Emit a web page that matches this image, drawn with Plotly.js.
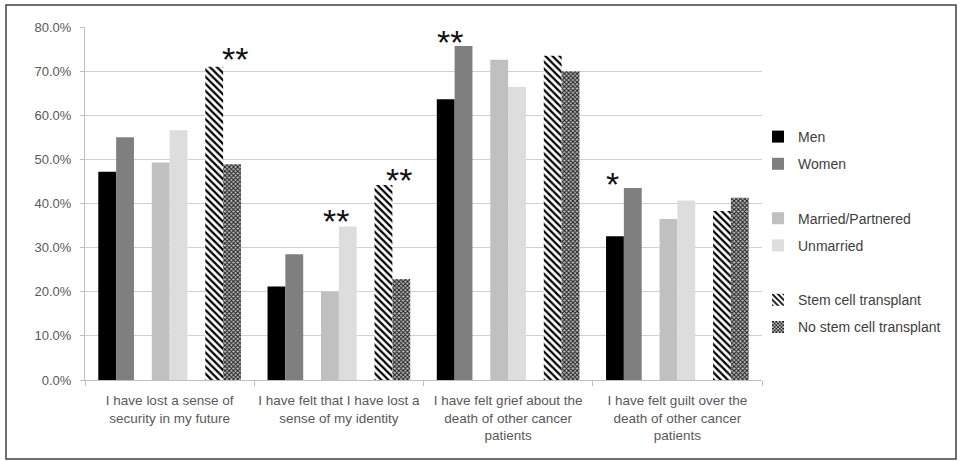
<!DOCTYPE html>
<html>
<head>
<meta charset="utf-8">
<script src="https://cdn.plot.ly/plotly-3.0.1.min.js"></script>
<style>
html, body { margin: 0; padding: 0; background: #fff; }
#chart { width: 961px; height: 461px; }
</style>
</head>
<body>
<div id="chart"></div>
<script>
// ---- data ----
const categories = [
  "I have lost a sense of<br>security in my future",
  "I have felt that I have lost a<br>sense of my identity",
  "I have felt grief about the<br>death of other cancer<br>patients",
  "I have felt guilt over the<br>death of other cancer<br>patients"
];
const men       = [0.472, 0.212, 0.636, 0.326];
const women     = [0.550, 0.285, 0.757, 0.435];
const married   = [0.493, 0.200, 0.726, 0.365];
const unmarried = [0.566, 0.348, 0.664, 0.407];
const sct       = [0.710, 0.442, 0.735, 0.383];
const noSct     = [0.489, 0.229, 0.700, 0.413];
const spacer    = [0, 0, 0, 0];

const yTickVals = [0, 0.1, 0.2, 0.3, 0.4, 0.5, 0.6, 0.7, 0.8];

// significance markers
const starText = ["**", "**", "**", "**", "*"];
const starCat  = [0.388, 0.981, 1.356, 1.656, 2.616];
const starY    = [0.737, 0.370, 0.463, 0.774, 0.453];

// ---- traces ----
function bar(name, y, marker, group) {
  return {
    type: 'bar', name: name, x: categories, y: y,
    marker: marker, legendgroup: group, hoverinfo: 'skip'
  };
}
const clear = 'rgba(0,0,0,0)';
const traces = [
  bar('Men', men, {color: '#000000'}, 'g1'),
  bar('Women', women, {color: '#7f7f7f'}, 'g2'),
  bar(' ', spacer, {color: clear}, 'g3'),
  bar('Married/Partnered', married, {color: '#c0c0c0'}, 'g4'),
  bar('Unmarried', unmarried, {color: '#dddddd'}, 'g5'),
  bar('  ', spacer, {color: clear}, 'g6'),
  bar('Stem cell transplant', sct, {color: '#ffffff',
      pattern: {shape: '\\', fgcolor: '#000000', bgcolor: '#ffffff', size: 5, solidity: 0.45}}, 'g7'),
  bar('No stem cell transplant', noSct, {color: '#ffffff',
      pattern: {shape: 'x', fgcolor: '#1a1a1a', bgcolor: '#bdbdbd', size: 3, solidity: 0.55}}, 'g8')
];

const annotations = starText.map((t, i) => ({
  x: starCat[i], y: starY[i], xref: 'x', yref: 'y',
  text: t, showarrow: false, xanchor: 'center', yanchor: 'middle',
  yshift: -4,
  font: {family: 'Liberation Sans, Arial, sans-serif', size: 34, color: '#111111'}
}));

const L = 85, R = 199, T = 27, B = 81, W = 961, H = 461;
const pw = W - L - R, ph = H - T - B;
const px = v => (v - L) / pw;
const py = v => (H - B - v) / ph;

const layout = {
  width: W, height: H,
  margin: {l: L, r: R, t: T, b: B, pad: 0},
  paper_bgcolor: '#ffffff', plot_bgcolor: '#ffffff',
  barmode: 'group', bargap: 0.157, bargroupgap: 0,
  font: {family: 'Liberation Sans, Arial, sans-serif', color: '#595959'},
  showlegend: true,
  legend: {
    x: px(758), y: py(121), xanchor: 'left', yanchor: 'top',
    traceorder: 'grouped', tracegroupgap: 6,
    font: {size: 14, color: '#404040'}, bgcolor: clear
  },
  xaxis: {
    type: 'category', showgrid: false, showline: true, linecolor: '#bfbfbf', linewidth: 1,
    ticks: 'outside', tickson: 'boundaries', ticklen: 5, tickcolor: '#bfbfbf',
    tickangle: 0, automargin: false, ticklabelstandoff: 8,
    tickfont: {size: 13.5, color: '#595959'}, zeroline: false, fixedrange: true
  },
  yaxis: {
    range: [0, 0.8], tickvals: yTickVals, tickformat: '.1%',
    showgrid: true, gridcolor: '#d0d0d0', gridwidth: 1,
    showline: true, linecolor: '#bfbfbf', linewidth: 1,
    ticks: 'outside', ticklen: 4, tickcolor: '#bfbfbf',
    ticklabelstandoff: 6,
    tickfont: {size: 13, color: '#595959'}, zeroline: false, fixedrange: true
  },
  annotations: annotations,
  shapes: [{
    type: 'rect', xref: 'paper', yref: 'paper',
    x0: px(6), x1: px(956), y0: py(459), y1: py(5),
    line: {color: '#404040', width: 1.5}, fillcolor: clear, layer: 'above'
  }]
};

Plotly.newPlot('chart', traces, layout, {displayModeBar: false, staticPlot: true});
</script>
</body>
</html>
